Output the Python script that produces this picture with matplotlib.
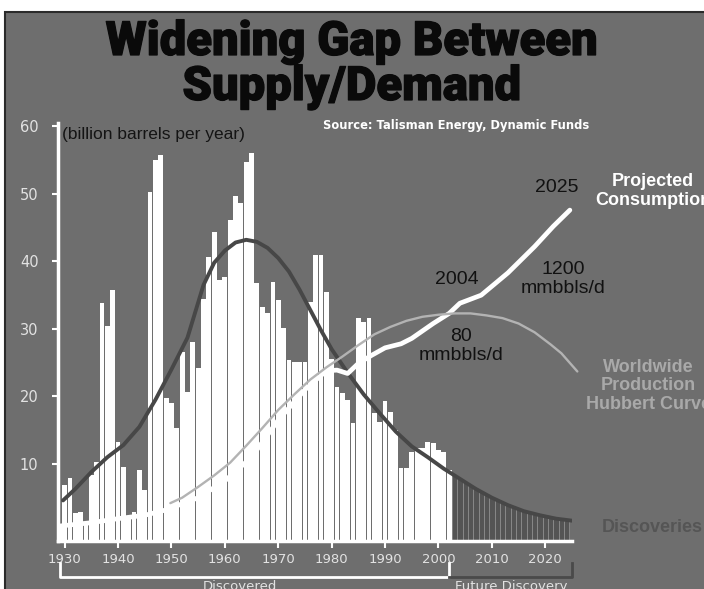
import numpy as np
import matplotlib.pyplot as plt
import matplotlib.patheffects as pe
from matplotlib.patches import Rectangle
from matplotlib.transforms import blended_transform_factory

W, H = 704, 589


def px(x, y):
    # pixel position in the picture -> figure fraction
    return x / W, 1 - y / H


# discovered volumes per year (billion barrels)
found_years = list(range(1929, 2003))
found_vals = [1.0, 6.9, 7.9, 2.7, 2.9, 1.4, 8.4, 10.3, 33.8, 30.4,
              35.8, 13.3, 9.6, 2.1, 2.9, 9.1, 6.1, 50.3, 55.0, 55.8,
              19.8, 19.0, 15.3, 26.6, 20.7, 28.1, 24.2, 34.5, 40.7, 44.4,
              37.3, 37.7, 46.1, 49.7, 48.6, 54.7, 56.0, 36.8, 33.2, 32.3,
              37.0, 34.3, 30.1, 25.4, 25.1, 25.1, 25.1, 34.0, 41.0, 41.0,
              35.5, 25.5, 21.4, 20.5, 19.5, 16.1, 31.6, 31.1, 31.6, 17.5,
              16.2, 19.3, 17.7, 15.0, 9.4, 9.4, 11.8, 12.4, 12.4, 13.3,
              13.1, 12.1, 11.8, 9.1]

# future discoveries
future_years = list(range(2003, 2025))
future_vals = [8.4, 7.8, 7.3, 6.8, 6.3, 5.8, 5.4, 5.0, 4.6, 4.2, 3.9,
               3.6, 3.3, 3.0, 2.8, 2.6, 2.4, 2.2, 2.0, 1.9, 1.8, 1.7]

# discovery trend curve
disc_years = [1929.7, 1932, 1935, 1938, 1941, 1944, 1947, 1950, 1953, 1956,
              1958, 1960, 1962, 1964, 1966, 1968, 1970, 1972, 1974, 1976,
              1978, 1980, 1983, 1986, 1989, 1992, 1995, 1998, 2001, 2004,
              2007, 2010, 2013, 2016, 2019, 2022, 2025]
disc_vals = [4.6, 6.3, 8.8, 11.0, 12.8, 15.5, 19.5, 24.0, 28.7, 36.5,
             39.8, 41.6, 42.8, 43.2, 42.9, 42.0, 40.5, 38.5, 35.8, 32.8,
             29.8, 27.0, 23.5, 20.3, 17.5, 14.8, 12.6, 11.0, 9.3, 7.8,
             6.3, 5.0, 3.9, 3.0, 2.4, 1.9, 1.6]

# worldwide production (Hubbert curve)
prod_years = [1949.8, 1952, 1955, 1958, 1961, 1964, 1967, 1970, 1973, 1976,
              1979, 1982, 1985, 1988, 1991, 1994, 1997, 2000, 2003, 2006,
              2009, 2012, 2015, 2018, 2021, 2023, 2026]
prod_vals = [4.2, 5.0, 6.6, 8.3, 10.2, 12.7, 15.3, 18.0, 20.3, 22.5,
             24.3, 25.9, 27.6, 29.2, 30.3, 31.2, 31.8, 32.1, 32.3, 32.3,
             32.0, 31.6, 30.8, 29.5, 27.7, 26.4, 23.7]

# projected consumption
cons_years = [1929, 1935, 1940, 1945, 1949, 1955, 1960, 1965, 1970, 1975,
              1979, 1981, 1983, 1985, 1987.5, 1990, 1993, 1995, 1999, 2001,
              2002, 2004, 2008, 2013, 2018, 2021.5, 2024.6]
cons_vals = [0.8, 1.3, 1.9, 2.4, 3.2, 5.0, 7.5, 11.0, 16.5, 21.0,
             23.8, 23.9, 23.4, 24.9, 26.1, 27.2, 27.8, 28.6, 30.8, 31.8,
             32.3, 33.8, 35.0, 38.3, 42.2, 45.2, 47.6]

x_ticks = list(range(1930, 2021, 10))
y_ticks = list(range(10, 61, 10))

PANEL = '#6e6e6e'
BASE = -1.41

fig = plt.figure(figsize=(W / 100, H / 100), dpi=100)
fig.patch.set_facecolor('white')
fig.patches.append(Rectangle((5 / W, -0.02), 1.0, 1 - 12 / H + 0.02,
                             transform=fig.transFigure, facecolor=PANEL,
                             edgecolor='#2a2a2a', lw=1.5, zorder=-5))

ax = fig.add_axes([58 / W, 1 - 541 / H, (572 - 58) / W, (541 - 123) / H])
ax.set_facecolor('none')
ax.set_zorder(2)

ax.bar(found_years, np.array(found_vals) - BASE, bottom=BASE, width=0.9,
       color='white', lw=0, zorder=2)
ax.bar(future_years, np.array(future_vals) - BASE, bottom=BASE, width=1.0,
       color='#545454', edgecolor='#8c8c8c', lw=0.6, zorder=2)

ax.plot(disc_years, disc_vals, color='#474747', lw=2.8, zorder=3,
        solid_capstyle='round')
ax.plot(cons_years, cons_vals, color='white', lw=3.4, zorder=3.5,
        clip_on=False, solid_capstyle='round')
ax.plot(prod_years, prod_vals, color='#b3b3b3', lw=1.7, zorder=4,
        clip_on=False, solid_capstyle='round')

ax.set_xlim(1928.76, 2025.0)
ax.set_ylim(BASE, 60.5)
ax.set_xticks(x_ticks)
ax.set_yticks(y_ticks)
ax.tick_params(axis='x', colors='white', length=5, width=1.5, pad=3.5,
               labelsize=9.5, labelcolor='#e2e2e2')
ax.tick_params(axis='y', colors='white', length=4, width=1.5, pad=10,
               labelsize=10.5, labelcolor='#e2e2e2')
for s in ['top', 'right']:
    ax.spines[s].set_visible(False)
for s in ['left', 'bottom']:
    ax.spines[s].set_color('white')
    ax.spines[s].set_linewidth(2.5)

# brackets under the axis
tr = blended_transform_factory(ax.transData, ax.transAxes)
y_lo = (541 - 577) / 418
y_hi = (541 - 563) / 418
ax.plot([1929.1, 1929.1, 2002, 2002], [y_hi, y_lo, y_lo, y_hi], transform=tr,
        color='white', lw=2, clip_on=False)
ax.plot([2002, 2025, 2025], [y_lo, y_lo, y_hi], transform=tr,
        color='#4a4a4a', lw=2, clip_on=False)
fig.text(*px(240, 580), 'Discovered', ha='center', va='top', fontsize=9.5,
         color='#e2e2e2')
fig.text(*px(511, 580), 'Future Discovery', ha='center', va='top',
         fontsize=9.5, color='#e2e2e2')

# title
thick = [pe.withStroke(linewidth=0.9, foreground='#0a0a0a')]
fig.text(*px(352, 55), 'Widening Gap Between', ha='center', va='baseline',
         fontsize=34, fontweight='black', family='Roboto', color='#0a0a0a',
         path_effects=thick)
fig.text(*px(352, 100), 'Supply/Demand', ha='center', va='baseline',
         fontsize=34, fontweight='black', family='Roboto', color='#0a0a0a',
         path_effects=thick)

fig.text(*px(62, 134), '(billion barrels per year)', ha='left', va='center',
         fontsize=12.5, family='Liberation Sans', color='#141414')
fig.text(*px(323, 126), 'Source: Talisman Energy, Dynamic Funds', ha='left',
         va='center', fontsize=8.3, fontweight='bold', color='white')

ann = dict(ha='center', va='center', fontsize=14, family='Liberation Sans',
           color='#111111', linespacing=1.1)
fig.text(*px(557, 188), '2025', **ann)
fig.text(*px(457, 280), '2004', **ann)
fig.text(*px(563, 279), '1200\nmmbbls/d', **ann)
fig.text(*px(461, 346), '80\nmmbbls/d', **ann)

fig.text(*px(653, 191), 'Projected\nConsumption', ha='center', va='center',
         fontsize=13, fontweight='bold', family='Liberation Sans',
         color='white', linespacing=1.15)
fig.text(*px(648, 386), 'Worldwide\nProduction\nHubbert Curve', ha='center',
         va='center', fontsize=13, fontweight='bold', family='Liberation Sans',
         color='#a9a9a9', linespacing=1.15)
fig.text(*px(602, 527), 'Discoveries', ha='left', va='center', fontsize=13,
         fontweight='bold', family='Liberation Sans', color='#555555')

fig.savefig('out.png', dpi=100)
